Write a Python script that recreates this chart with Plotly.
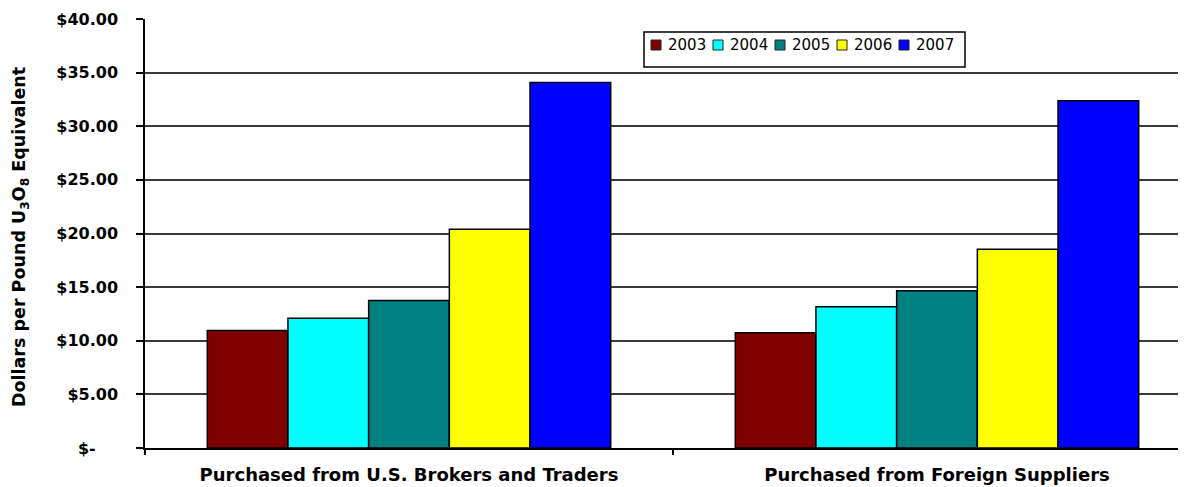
import plotly.graph_objects as go

categories = ["Purchased from U.S. Brokers and Traders", "Purchased from Foreign Suppliers"]
years = ["2003", "2004", "2005", "2006", "2007"]
values = {
    "2003": [10.95, 10.75],
    "2004": [12.10, 13.18],
    "2005": [13.75, 14.67],
    "2006": [20.40, 18.52],
    "2007": [34.07, 32.38],
}
colors = ["#800000", "#00FFFF", "#008080", "#FFFF00", "#0000FF"]
y_tickvals = [0, 5, 10, 15, 20, 25, 30, 35, 40]
y_ticktext = ["$-" + "\u00a0" * 4, "$5.00", "$10.00", "$15.00", "$20.00",
              "$25.00", "$30.00", "$35.00", "$40.00"]

# page body has an 8px margin; compensate so the plot lands where the reference has it
OFF = 8
W, H = 1186 - OFF, 487 - OFF
ML, MR, MT, MB = 145 - OFF, 0, 19 - OFF, 39
plot_w = W - ML - MR
plot_h = H - MT - MB
cat_px = 528.0
x_right = -0.5 + plot_w / cat_px

# screen pixel -> paper coordinate helpers
AX_LEFT, AX_BOTTOM = 145, 448
def px_x(p):
    return (p - AX_LEFT) / plot_w
def px_y(p):
    return (AX_BOTTOM - p) / plot_h

fig = go.Figure()
for yr, col in zip(years, colors):
    fig.add_trace(go.Bar(
        x=categories, y=values[yr], name=yr, showlegend=False,
        marker=dict(color=col, line=dict(color="#000000", width=1.5)),
    ))

# legend box drawn with shapes + text annotations (Excel-style compact legend)
LEG_X0, LEG_X1, LEG_Y0, LEG_Y1 = 644, 965, 32, 67
LEG_TEXT0, LEG_STEP, LEG_CY, SQ = 667, 62, 45, 10
shapes = [dict(type="rect", xref="paper", yref="paper",
               x0=px_x(LEG_X0), x1=px_x(LEG_X1), y0=px_y(LEG_Y1), y1=px_y(LEG_Y0),
               line=dict(color="#000000", width=1.5), fillcolor="white", layer="above")]
annotations = []
for i, (yr, col) in enumerate(zip(years, colors)):
    tx = LEG_TEXT0 + i * LEG_STEP
    sx = tx - 16
    shapes.append(dict(type="rect", xref="paper", yref="paper",
                       x0=px_x(sx), x1=px_x(sx + SQ),
                       y0=px_y(LEG_CY + SQ / 2), y1=px_y(LEG_CY - SQ / 2),
                       line=dict(color="#222222", width=1), fillcolor=col, layer="above"))
    annotations.append(dict(text=yr, xref="paper", yref="paper",
                            x=px_x(tx - 1), y=px_y(LEG_CY),
                            xanchor="left", yanchor="middle", showarrow=False,
                            font=dict(size=15, family="DejaVu Sans", color="#000000")))

annotations.append(dict(
    text="Dollars per Pound U<sub>3</sub>O<sub>8</sub> Equivalent",
    xref="paper", yref="paper",
    x=px_x(20), y=px_y(237),
    xanchor="center", yanchor="middle",
    textangle=-90, showarrow=False,
    font=dict(size=17.5, family="DejaVu Sans", weight="bold"),
))

fig.update_layout(
    width=W, height=H,
    margin=dict(l=ML, r=MR, t=MT, b=MB),
    paper_bgcolor="white", plot_bgcolor="white",
    barmode="group", bargap=0.236, bargroupgap=0,
    font=dict(family="DejaVu Sans", color="#000000"),
    showlegend=False,
    xaxis=dict(
        range=[-0.5, x_right],
        showline=True, linecolor="#000000", linewidth=1.5,
        ticks="outside", ticklen=5, tickcolor="#000000", tickwidth=1.5,
        tickson="boundaries",
        showgrid=False,
        tickfont=dict(size=18, family="DejaVu Sans", weight="bold"),
        ticklabelstandoff=10,
    ),
    yaxis=dict(
        range=[0, 40],
        tickvals=y_tickvals, ticktext=y_ticktext,
        showline=True, linecolor="#000000", linewidth=1.5,
        ticks="outside", ticklen=7, tickcolor="#000000", tickwidth=1.5,
        showgrid=True, gridcolor="#3a3a3a", gridwidth=1.5,
        zeroline=False,
        tickfont=dict(size=16, family="DejaVu Sans", weight="bold"),
        ticklabelstandoff=15,
    ),
    shapes=shapes,
    annotations=annotations,
)

fig.write_html("out.html")
